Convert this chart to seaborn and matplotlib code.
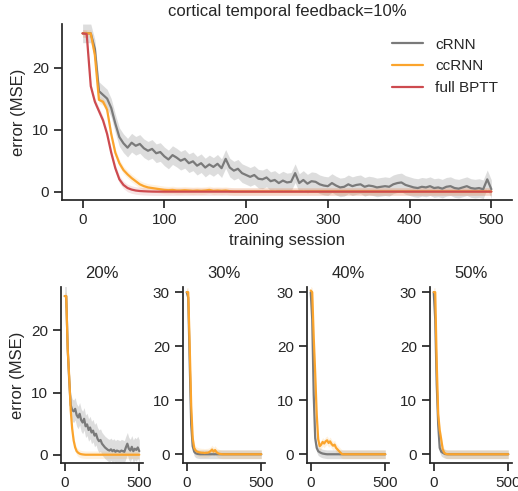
import numpy as np
import seaborn as sns
import matplotlib.pyplot as plt

# training sessions (top panel sampled every 5, small panels every 10)
sessions_top = np.arange(0, 501, 5)
sessions_small = np.arange(0, 501, 10)

# top panel: 10% cortical temporal feedback
crnn_10 = [25.5, 25.5, 25.5, 23.0, 16.2, 15.6, 15.0, 13.5, 11.0, 8.8,
           7.8, 7.1, 7.9, 7.4, 7.7, 7.0, 6.6, 6.9, 6.2, 6.4,
           5.7, 5.2, 5.9, 5.5, 5.0, 5.3, 4.6, 4.9, 4.2, 4.6,
           3.9, 4.4, 4.0, 4.5, 3.8, 5.3, 3.9, 3.4, 3.7, 3.0,
           2.7, 2.4, 2.7, 2.1, 2.0, 2.3, 1.7, 1.9, 1.4, 1.8,
           1.5, 1.6, 3.0, 1.4, 1.9, 1.3, 1.7, 1.6, 1.2, 1.0,
           0.9, 1.4, 1.0, 0.7, 0.8, 1.2, 0.9, 1.1, 1.2, 0.8,
           1.0, 0.9, 0.7, 0.8, 0.9, 0.8, 1.2, 1.4, 1.5, 1.1,
           0.9, 0.7, 0.6, 0.8, 0.7, 0.9, 0.6, 0.7, 0.5, 0.8,
           0.9, 0.6, 0.5, 0.7, 0.9, 0.6, 0.5, 0.6, 0.4, 2.0,
           0.4]
ccrnn_10 = [25.5, 25.5, 25.5, 22.0, 14.8, 14.5, 13.2, 9.3, 6.3, 4.6,
            3.5, 2.8, 2.2, 1.7, 1.2, 0.9, 0.7, 0.6, 0.5, 0.4,
            0.3, 0.25, 0.3, 0.2, 0.2, 0.25, 0.2, 0.15, 0.2, 0.15,
            0.2, 0.3, 0.15, 0.2, 0.15, 0.2, 0.1, 0.05, 0.05, 0.05] + [0.05] * 61
bptt_10 = [25.5, 25.4, 17.0, 14.5, 13.0, 11.5, 9.3, 6.3, 3.8, 2.0,
           1.1, 0.6, 0.35, 0.2, 0.12, 0.08, 0.05, 0.03, 0.02, 0.02] + [0.02] * 81

# small panels
crnn_20 = [25.5, 25.5, 17.0, 12.0, 8.0, 7.2, 7.0, 7.4, 6.4, 6.0,
           6.6, 5.6, 5.2, 5.8, 4.6, 4.9, 4.0, 4.4, 3.6, 3.9,
           3.1, 3.4, 2.6, 2.2, 2.4, 1.8, 1.5, 1.2, 1.0, 0.8,
           0.7, 0.9, 0.6, 0.8, 0.5, 0.7, 0.6, 0.5, 0.7, 0.6,
           0.5, 1.2, 1.8, 1.0, 0.7, 1.3, 0.6, 1.0, 0.8, 1.2,
           0.6]
ccrnn_20 = [25.5, 25.5, 17.0, 12.5, 7.2, 4.2, 2.3, 1.2, 0.6, 0.35,
            0.2, 0.12, 0.08, 0.05, 0.03] + [0.03] * 36
crnn_30 = [30.0, 29.0, 17.0, 5.5, 1.5, 0.5, 0.2, 0.1, 0.05, 0.02] + [0.02] * 41
ccrnn_30 = [30.0, 30.0, 20.0, 9.0, 3.0, 1.2, 0.7, 0.5, 0.4, 0.35,
            0.3, 0.3, 0.25, 0.3, 0.3, 0.4, 0.6, 0.9, 0.5, 0.8,
            0.4, 0.2, 0.1, 0.05, 0.02] + [0.02] * 26
crnn_40 = [30.0, 25.0, 11.0, 3.0, 1.2, 0.6, 0.4, 0.25, 0.15, 0.1, 0.05] + [0.02] * 40
ccrnn_40 = [30.3, 30.0, 21.7, 15.0, 7.5, 2.8, 1.5, 1.8, 2.3, 2.0,
            2.4, 2.6, 2.1, 2.4, 1.9, 1.6, 1.8, 1.2, 0.9, 0.6,
            0.3, 0.05] + [0.02] * 29
crnn_50 = [30.0, 25.0, 13.0, 5.5, 1.2, 0.5, 0.3, 0.15, 0.05] + [0.02] * 42
ccrnn_50 = [30.0, 30.0, 17.0, 7.5, 4.5, 2.8, 1.0, 0.3, 0.1, 0.05] + [0.02] * 41

small_titles = ['20%', '30%', '40%', '50%']
small_crnn = [crnn_20, crnn_30, crnn_40, crnn_50]
small_ccrnn = [ccrnn_20, ccrnn_30, ccrnn_40, ccrnn_50]
small_spread = [(1.8, 0.6), (0.8, 0.8), (0.8, 0.8), (0.8, 0.8)]

c_gray = '#7a7a7a'
c_orange = '#fba42c'
c_red = '#cd4a4f'

sns.set_theme(style='ticks', context='notebook')
plt.rcParams['font.family'] = ['Liberation Sans', 'DejaVu Sans']

fig = plt.figure(figsize=(5.18, 4.91), dpi=100)


def draw(ax, x, y, color, spread, band_alpha, label=None):
    y = np.array(y)
    ax.fill_between(x, y - spread, y + spread, color=color, alpha=band_alpha, lw=0)
    sns.lineplot(x=x, y=y, color=color, lw=1.6, ax=ax, label=label)


# top panel
ax = fig.add_axes([0.120, 0.593, 0.868, 0.358])
draw(ax, sessions_top, crnn_10, c_gray, 1.5, 0.25, 'cRNN')
draw(ax, sessions_top, ccrnn_10, c_orange, 0.6, 0.15, 'ccRNN')
draw(ax, sessions_top, bptt_10, c_red, 0.6, 0.15, 'full BPTT')
ax.set_xlim(-25, 525)
ax.set_ylim(-1.3, 27.0)
ax.set_yticks([0, 10, 20])
ax.set_xlabel('training session')
ax.set_ylabel('error (MSE)')
ax.set_title('cortical temporal feedback=10%')
ax.legend(frameon=False, loc='upper right')
sns.despine(ax=ax)

# small panels
lefts = [61, 183, 307, 430]
for i in range(4):
    ax = fig.add_axes([lefts[i] / 518, 0.057, 82 / 518, 0.359])
    draw(ax, sessions_small, small_crnn[i], c_gray, small_spread[i][0], 0.25)
    draw(ax, sessions_small, small_ccrnn[i], c_orange, small_spread[i][1], 0.15)
    ax.set_xlim(-25, 525)
    ax.set_xticks([0, 500])
    if i == 0:
        ax.set_ylim(-1.3, 27.0)
        ax.set_yticks([0, 10, 20])
        ax.set_ylabel('error (MSE)')
    else:
        ax.set_ylim(-1.6, 31.0)
        ax.set_yticks([0, 10, 20, 30])
    ax.set_title(small_titles[i])
    sns.despine(ax=ax)

fig.savefig('out.png', dpi=100)
